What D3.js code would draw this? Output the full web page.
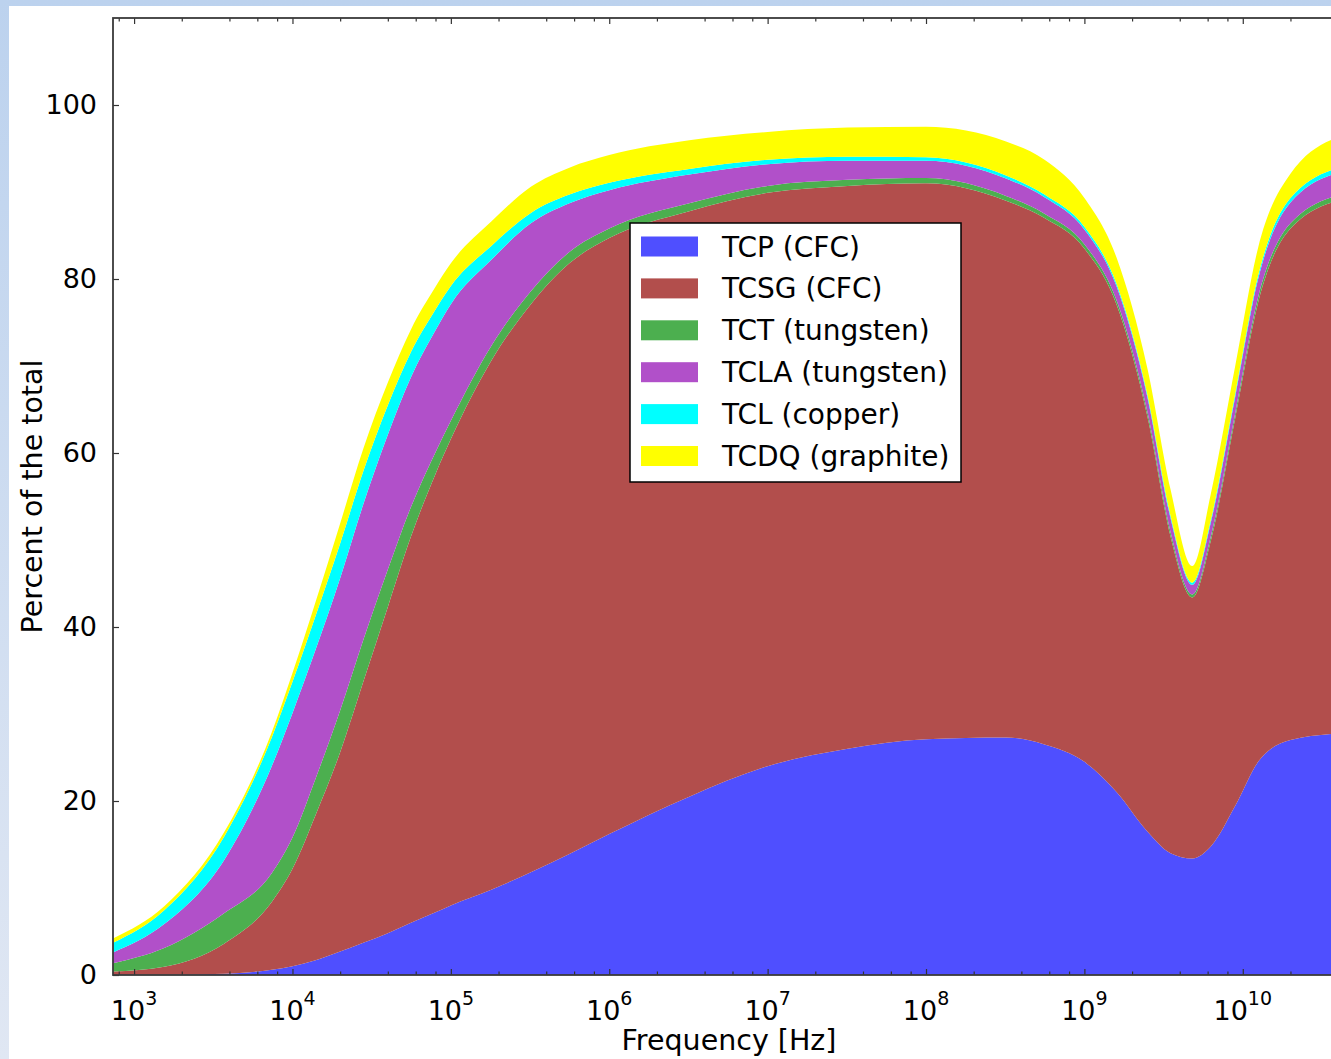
<!DOCTYPE html>
<html>
<head>
<meta charset="utf-8">
<script src="https://cdn.jsdelivr.net/npm/d3@7"></script>
<style>
  html, body { margin: 0; padding: 0; overflow: hidden; background: #fff; }
  svg { display: block; font-family: "DejaVu Sans", sans-serif; }
</style>
</head>
<body>
<div id="chart"></div>
<script>
// frequency grid [Hz]
const freqs = [7.36e2, 1.55e3, 3.7e3, 7.4e3, 1e4, 1.4e4, 2e4, 2.8e4, 4e4, 5.6e4, 8e4, 1e5,
  1.8e5, 3.2e5, 5.6e5, 1e6, 3.2e6, 1e7, 3.2e7, 1e8, 3.2e8, 5.6e8, 1e9, 1.6e9, 2.5e9,
  3.5e9, 4.8e9, 6.3e9, 9e9, 1.25e10, 2e10, 4.42e10];

// share of the total [%] for each collimator family
const tcp  = [0.0, 0.02, 0.15, 0.6, 1.0, 1.7, 2.7, 3.7, 4.8, 6.0, 7.2, 8.0, 9.8, 11.8, 13.9, 16.2,
  20.5, 24.0, 26.0, 27.1, 27.3, 26.5, 24.5, 21.0, 16.5, 14.0, 13.4, 14.8, 19.5, 24.5, 27.0, 27.8];
const tcsg = [0.4, 0.93, 3.45, 7.8, 11.2, 16.7, 22.9, 30.0, 37.5, 44.4, 50.4, 53.6, 60.8, 65.3, 67.9, 68.5,
  67.3, 65.9, 64.7, 63.9, 61.7, 60.5, 59.0, 56.0, 47.7, 36.4, 30.0, 35.2, 44.7, 52.8, 58.8, 61.45];
const tct  = [0.95, 2.15, 3.5, 3.3, 3.6, 4.2, 4.8, 4.8, 4.3, 3.4, 2.5, 2.1, 1.7, 1.5, 1.3, 1.1,
  0.9, 0.8, 0.7, 0.6, 0.55, 0.5, 0.5, 0.5, 0.5, 0.5, 0.35, 0.5, 0.55, 0.6, 0.6, 0.6];
const tcla = [1.25, 2.75, 6.1, 12.3, 14.3, 14.8, 15.2, 15.6, 15.5, 14.9, 14.0, 13.4, 9.9, 7.8, 5.6, 4.4,
  3.3, 2.5, 2.2, 2.0, 2.0, 1.9, 1.7, 1.6, 1.7, 1.6, 1.1, 1.6, 1.9, 2.1, 2.4, 2.6];
const tcl  = [1.1, 1.6, 2.7, 3.3, 3.6, 3.9, 4.0, 3.8, 3.4, 2.9, 2.4, 2.1, 1.6, 1.2, 1.0, 0.85,
  0.65, 0.5, 0.45, 0.4, 0.35, 0.3, 0.3, 0.3, 0.3, 0.3, 0.25, 0.3, 0.35, 0.4, 0.5, 0.55];
const tcdq = [0.5, 0.45, 0.5, 0.6, 1.0, 1.6, 2.3, 2.6, 2.6, 2.6, 2.6, 2.6, 2.8, 3.0, 3.1, 3.2,
  3.3, 3.2, 3.35, 3.5, 3.9, 4.0, 3.3, 3.0, 3.0, 3.0, 1.9, 3.0, 3.2, 3.2, 2.8, 3.6];

const seriesNames = ["TCP (CFC)", "TCSG (CFC)", "TCT (tungsten)", "TCLA (tungsten)", "TCL (copper)", "TCDQ (graphite)"];
const seriesValues = [tcp, tcsg, tct, tcla, tcl, tcdq];
const colors = ["#4f4fff", "#b24e4c", "#4caf4f", "#b150c9", "#00ffff", "#ffff00"];

const yTicks = [0, 20, 40, 60, 80, 100];
const xMajor = [1e3, 1e4, 1e5, 1e6, 1e7, 1e8, 1e9, 1e10];

const W = 1331, H = 1059;
const plot = {left: 113, top: 18, right: 1345, bottom: 975};

const rows = freqs.map((f, i) => {
    const r = {f: f};
    seriesNames.forEach((n, k) => r[n] = seriesValues[k][i]);
    return r;
});

const x = d3.scaleLog()
    .domain([7.36e2, 4.42e10])
    .range([plot.left, plot.right]);

const y = d3.scaleLinear()
    .domain([0, 110])
    .range([plot.bottom, plot.top]);

// minor ticks at 2,4,6,8 x 10^k
const xMinor = [];
for (let k = 2; k <= 10; k++) {
    [2, 4, 6, 8].forEach(m => {
        const v = m * Math.pow(10, k);
        if (v >= x.domain()[0] && v <= x.domain()[1]) xMinor.push(v);
    });
}

const svg = d3.select("#chart")
    .append("svg")
    .attr("width", W)
    .attr("height", H);

// slide frame behind the figure
const grad = svg.append("defs").append("linearGradient")
    .attr("id", "frame").attr("x1", 0).attr("y1", 0).attr("x2", 0).attr("y2", 1);
grad.append("stop").attr("offset", "0%").attr("stop-color", "#bcd2ee");
grad.append("stop").attr("offset", "100%").attr("stop-color", "#e0e7f3");

svg.append("rect").attr("width", W).attr("height", H).attr("fill", "url(#frame)");
svg.append("rect").attr("x", 9).attr("y", 6).attr("width", W - 9).attr("height", H - 6).attr("fill", "#fff");

svg.append("clipPath").attr("id", "plotclip")
  .append("rect")
    .attr("x", plot.left).attr("y", plot.top)
    .attr("width", plot.right - plot.left).attr("height", plot.bottom - plot.top);

const stack = d3.stack().keys(seriesNames);
const layers = stack(rows);

const area = d3.area()
    .x(d => x(d.data.f))
    .y0(d => y(d[0]))
    .y1(d => y(d[1]))
    .curve(d3.curveMonotoneX);

svg.append("g")
    .attr("clip-path", "url(#plotclip)")
  .selectAll("path")
  .data(layers)
  .join("path")
    .attr("d", area)
    .attr("fill", (d, i) => colors[i]);

// ticks (all pointing inward)
function tickAxis(axis, transform) {
    const g = svg.append("g").attr("transform", transform).call(axis);
    g.select(".domain").remove();
    g.selectAll(".tick line").attr("stroke", "#333").attr("stroke-width", 1.2);
    return g;
}

tickAxis(d3.axisBottom(x).tickValues(xMajor).tickSize(-6).tickFormat(""), `translate(0,${plot.bottom})`);
tickAxis(d3.axisBottom(x).tickValues(xMinor).tickSize(-3.5).tickFormat(""), `translate(0,${plot.bottom})`);
tickAxis(d3.axisTop(x).tickValues(xMajor).tickSize(-6).tickFormat(""), `translate(0,${plot.top})`);
tickAxis(d3.axisTop(x).tickValues(xMinor).tickSize(-3.5).tickFormat(""), `translate(0,${plot.top})`);

const yAxisG = tickAxis(d3.axisLeft(y).tickValues(yTicks).tickSize(-6).tickPadding(16), `translate(${plot.left},0)`);
yAxisG.selectAll("text")
    .attr("font-size", 27)
    .attr("font-family", "DejaVu Sans, sans-serif")
    .attr("fill", "#000");

// spines
svg.append("rect")
    .attr("x", plot.left).attr("y", plot.top)
    .attr("width", plot.right - plot.left).attr("height", plot.bottom - plot.top)
    .attr("fill", "none")
    .attr("stroke", "#3a3a3a")
    .attr("stroke-width", 1.8);

// x tick labels as 10^k
const xl = svg.append("g")
  .selectAll("text")
  .data(xMajor)
  .join("text")
    .attr("x", d => x(d))
    .attr("y", 1020)
    .attr("text-anchor", "middle")
    .attr("fill", "#000");
xl.append("tspan").attr("font-size", 27).text("10");
xl.append("tspan")
    .attr("font-size", 19)
    .attr("dy", -15)
    .text(d => Math.round(Math.log10(d)));

// axis titles
svg.append("text")
    .attr("x", (plot.left + plot.right) / 2)
    .attr("y", 1050)
    .attr("text-anchor", "middle")
    .attr("font-size", 28.5)
    .text("Frequency [Hz]");

svg.append("text")
    .attr("transform", `translate(42,${(plot.top + plot.bottom) / 2}) rotate(-90)`)
    .attr("text-anchor", "middle")
    .attr("font-size", 28.5)
    .text("Percent of the total");

// legend
const legend = svg.append("g").attr("transform", "translate(630,223)");
legend.append("rect")
    .attr("width", 331).attr("height", 259)
    .attr("fill", "#fff")
    .attr("stroke", "#000")
    .attr("stroke-width", 1.5);

const items = legend.selectAll("g.item")
    .data(seriesNames)
  .join("g")
    .attr("class", "item")
    .attr("transform", (d, i) => `translate(0,${23.5 + i * 41.9})`);

items.append("rect")
    .attr("x", 11).attr("y", -10)
    .attr("width", 57).attr("height", 20)
    .attr("fill", (d, i) => colors[i]);

items.append("text")
    .attr("x", 92)
    .attr("dy", "0.36em")
    .attr("font-size", 28)
    .text(d => d);
</script>
</body>
</html>
